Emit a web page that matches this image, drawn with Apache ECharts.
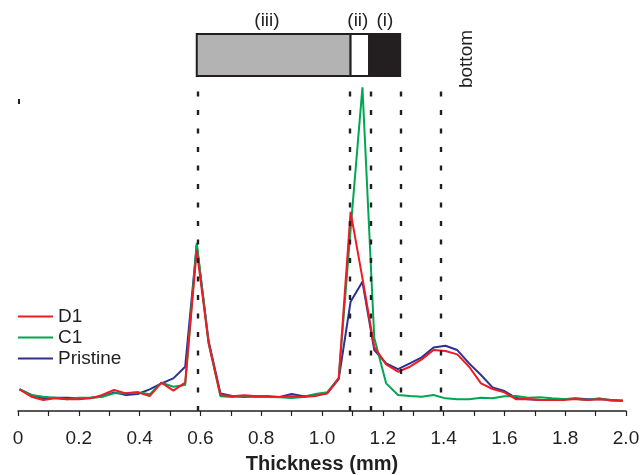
<!DOCTYPE html>
<html>
<head>
<meta charset="utf-8">
<script src="https://cdn.jsdelivr.net/npm/echarts@6/dist/echarts.min.js"></script>
<style>
  html, body { margin: 0; padding: 0; background: #fff; }
  #chart { width: 641px; height: 475px; }
</style>
</head>
<body>
<div id="chart"></div>
<script>
// Sample positions along the film thickness (mm)
const thickness = [0.005, 0.044, 0.083, 0.122, 0.161, 0.199, 0.238, 0.277, 0.316, 0.355,
  0.394, 0.433, 0.472, 0.511, 0.550, 0.588, 0.627, 0.666, 0.705, 0.744,
  0.783, 0.822, 0.861, 0.900, 0.939, 0.978, 1.017, 1.055, 1.094, 1.133,
  1.172, 1.211, 1.250, 1.289, 1.328, 1.367, 1.406, 1.445, 1.484, 1.523,
  1.561, 1.600, 1.639, 1.678, 1.717, 1.756, 1.795, 1.834, 1.873, 1.912,
  1.951, 1.990];

// Signal intensity (a.u.) for each sample
const d1 = [6.5, 4.3, 3.3, 3.8, 3.5, 3.5, 3.8, 4.8, 6.3, 5.3,
  5.6, 4.5, 8.5, 6.1, 8.5, 48.3, 20.4, 4.8, 4.4, 4.7,
  4.4, 4.5, 4.2, 4.4, 4.2, 4.5, 5.3, 9.9, 59.8, 39.9,
  19.2, 14.0, 11.8, 13.3, 15.5, 18.3, 18.0, 17.0, 13.3, 8.3,
  6.6, 5.6, 3.5, 3.6, 3.3, 3.3, 3.3, 3.6, 3.3, 3.5,
  3.3, 3.1];
const c1 = [6.6, 4.8, 4.3, 4.0, 3.5, 4.0, 4.0, 4.3, 5.3, 5.3,
  5.6, 5.0, 8.5, 7.3, 7.8, 50.5, 20.4, 4.4, 4.2, 4.4,
  4.2, 4.2, 4.1, 3.9, 4.2, 5.1, 5.6, 9.9, 54.4, 97.2,
  21.9, 8.3, 4.8, 4.5, 4.3, 4.8, 3.8, 3.5, 3.5, 4.0,
  3.8, 4.4, 4.5, 4.0, 4.1, 3.8, 3.6, 3.6, 3.3, 3.8,
  3.1, 3.1];
const pristine = [6.5, 4.8, 3.8, 4.0, 4.0, 3.8, 4.0, 4.3, 5.6, 4.8,
  5.1, 6.5, 8.3, 9.8, 13.3, 49.8, 21.0, 5.3, 4.5, 4.2,
  4.4, 4.2, 4.2, 5.1, 4.4, 4.7, 5.3, 9.6, 32.8, 38.8,
  18.3, 14.3, 12.6, 14.3, 16.1, 19.1, 19.6, 18.3, 14.3, 10.8,
  7.1, 6.0, 3.9, 3.5, 3.3, 3.3, 3.5, 3.8, 3.5, 3.6,
  3.3, 3.1];

// Layer boundaries (mm) and the bottom of the film
const layerEdges = [0.588, 1.094, 1.155, 1.257];
const bottomEdge = 1.385;
const layerNames = ['(iii)', '(ii)', '(i)'];
const layerLabelAt = [0.819, 1.118, 1.207];
const layerFills = ['#b3b3b3', '#ffffff', '#231f20'];
const xTicks = [0, 0.2, 0.4, 0.6, 0.8, 1.0, 1.2, 1.4, 1.6, 1.8, 2.0];

const pairs = ys => thickness.map((x, i) => [x, ys[i]]);

const chart = echarts.init(document.getElementById('chart'), null, { renderer: 'canvas' });
const FONT = 'Liberation Sans, Arial, sans-serif';
const INK = '#231f20';

const lineSeries = (name, color, ys, z) => ({
  name, type: 'line', data: pairs(ys), symbol: 'none', z,
  lineStyle: { color, width: 2 }, itemStyle: { color },
  animation: false
});

chart.setOption({
  animation: false,
  grid: { left: 18, right: 15, top: 78, bottom: 64, containLabel: false, outerBoundsMode: 'none' },
  legend: {
    orient: 'vertical', left: 18, top: 307, padding: 0,
    data: ['D1', 'C1', 'Pristine'],
    icon: 'rect',
    itemWidth: 35, itemHeight: 2, itemGap: 2,
    textStyle: { fontFamily: FONT, fontSize: 19, color: INK }
  },
  xAxis: {
    type: 'value', min: 0, max: 2, interval: 0.2,
    name: 'Thickness (mm)', nameLocation: 'middle', nameGap: 43,
    nameTextStyle: { fontFamily: FONT, fontSize: 20, fontWeight: 'bold', color: INK },
    axisLine: { lineStyle: { color: INK, width: 1.5 } },
    axisTick: { length: 5, lineStyle: { color: INK, width: 1.2 } },
    minorTick: { show: true, splitNumber: 2, length: 5, lineStyle: { color: INK, width: 1.2 } },
    splitLine: { show: false },
    axisLabel: {
      margin: 18, fontFamily: FONT, fontSize: 19, color: INK,
      customValues: xTicks,
      formatter: v => (v === 0 ? '0' : v.toFixed(1))
    }
  },
  yAxis: {
    type: 'value', min: 0, max: 100, show: false
  },
  series: [
    lineSeries('Pristine', '#2e3192', pristine, 2),
    lineSeries('C1', '#00a651', c1, 3),
    Object.assign(lineSeries('D1', '#ed1c24', d1, 4), {
      markLine: {
        silent: true, symbol: 'none', label: { show: false },
        lineStyle: { color: INK, width: 2.4, type: [5, 13.5], opacity: 1 },
        data: layerEdges.concat([bottomEdge]).map(x => ({ xAxis: x }))
      }
    })
  ]
});

// Layer stack drawn above the plot, aligned with the x scale
function drawLayers() {
  const px = v => chart.convertToPixel({ xAxisIndex: 0 }, v);
  const py = v => chart.convertToPixel({ yAxisIndex: 0 }, v);
  const top = 34, bottom = 76;
  const els = [];
  for (let i = 0; i < 3; i++) {
    const x0 = px(layerEdges[i]), x1 = px(layerEdges[i + 1]);
    els.push({
      type: 'rect', shape: { x: x0, y: top, width: x1 - x0, height: bottom - top },
      style: { fill: layerFills[i], stroke: INK, lineWidth: 2 }
    });
    els.push({
      type: 'text', x: px(layerLabelAt[i]), y: 21,
      style: { text: layerNames[i], fill: INK, font: '19px ' + FONT, align: 'center', verticalAlign: 'middle' }
    });
  }
  els.push({
    type: 'text', x: px(1.477), y: 59, rotation: Math.PI / 2,
    style: { text: 'bottom', fill: INK, font: '19px ' + FONT, align: 'center', verticalAlign: 'middle' }
  });
  // short stub of the intensity axis
  const sx = px(0);
  els.push({
    type: 'line', shape: { x1: sx + 1, y1: py(93.7), x2: sx + 1, y2: py(92.2) },
    style: { stroke: INK, lineWidth: 2 }
  });
  chart.setOption({ graphic: { elements: els } });
}
drawLayers();
</script>
</body>
</html>
